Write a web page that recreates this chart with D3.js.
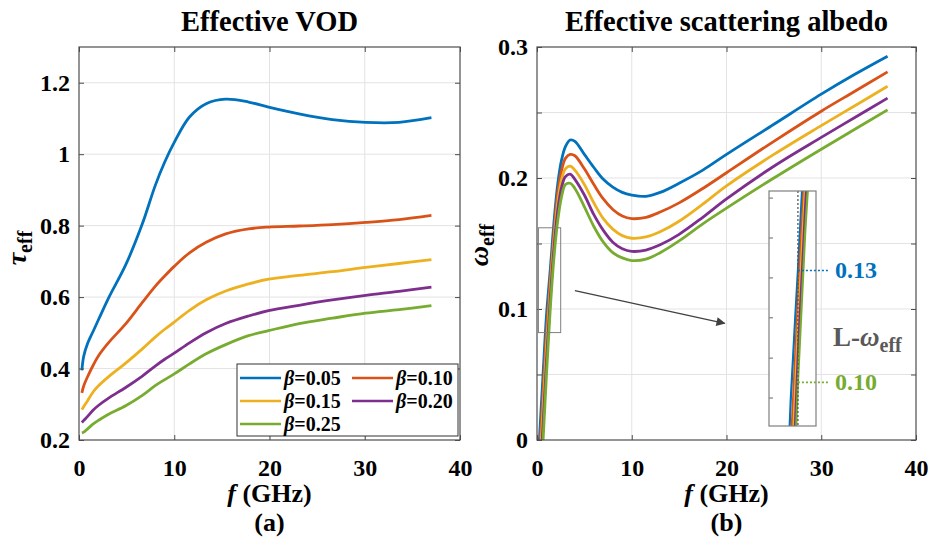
<!DOCTYPE html>
<html><head><meta charset="utf-8">
<script src="https://cdn.jsdelivr.net/npm/d3@7"></script>
<style>
body{margin:0;background:#fff;}
svg text{font-family:"Liberation Serif","Times New Roman",serif;font-weight:bold;fill:#000;}
</style></head><body>
<svg id="chart" width="930" height="547"></svg>
<script>
// ---------- data ----------
const betaLabels = ["0.05","0.10","0.15","0.20","0.25"];
const colors = ["#0072BD","#D95319","#EDB120","#7E2F8E","#77AC30"];

// Panel (a): effective VOD
const fVod = [0.3, 0.5, 0.9, 1.5, 2.1, 3.15, 4.9, 6.65, 8.0, 9.0, 10, 11.6, 13.4, 15.4, 17.8, 19.9, 23.1, 26.6, 30.1, 33.6, 37];
const vod005 = [0.395, 0.435, 0.47, 0.505, 0.54, 0.6, 0.69, 0.805, 0.912, 0.978, 1.033, 1.104, 1.142, 1.154, 1.146, 1.132, 1.113, 1.097, 1.089, 1.089, 1.102];
const vod010 = [0.332, 0.352, 0.377, 0.41, 0.438, 0.474, 0.525, 0.585, 0.63, 0.659, 0.686, 0.724, 0.754, 0.777, 0.791, 0.796, 0.799, 0.803, 0.809, 0.817, 0.829];
const vod015 = [0.285, 0.294, 0.31, 0.335, 0.353, 0.378, 0.415, 0.455, 0.488, 0.51, 0.53, 0.563, 0.593, 0.617, 0.637, 0.65, 0.661, 0.671, 0.683, 0.694, 0.705];
const vod020 = [0.249, 0.255, 0.266, 0.284, 0.298, 0.318, 0.347, 0.379, 0.407, 0.426, 0.443, 0.472, 0.501, 0.526, 0.547, 0.562, 0.577, 0.592, 0.605, 0.616, 0.628];
const vod025 = [0.22, 0.222, 0.231, 0.245, 0.256, 0.273, 0.296, 0.325, 0.352, 0.369, 0.385, 0.413, 0.442, 0.467, 0.492, 0.506, 0.526, 0.541, 0.555, 0.565, 0.576];

// Panel (b): effective scattering albedo
const fAlb = [0.25, 0.6, 1.0, 1.4, 1.8, 2.2, 2.6, 3.0, 3.5, 4.0, 5.0, 6.0, 7.0, 8.0, 9.0, 10, 11.5, 13, 15, 17.5, 20, 25, 30, 33.5, 37];
const alb005 = [0.0, 0.045, 0.095, 0.13, 0.167, 0.196, 0.214, 0.224, 0.229, 0.228, 0.218, 0.208, 0.199, 0.193, 0.189, 0.187, 0.186, 0.189, 0.196, 0.206, 0.218, 0.241, 0.264, 0.279, 0.293];
const alb010 = [-0.013, 0.03, 0.082, 0.122, 0.159, 0.189, 0.206, 0.215, 0.218, 0.217, 0.207, 0.195, 0.184, 0.176, 0.171, 0.169, 0.170, 0.174, 0.181, 0.192, 0.204, 0.228, 0.251, 0.266, 0.281];
const alb015 = [-0.025, 0.018, 0.071, 0.115, 0.153, 0.182, 0.199, 0.207, 0.209, 0.206, 0.195, 0.181, 0.169, 0.161, 0.156, 0.154, 0.155, 0.159, 0.167, 0.180, 0.194, 0.218, 0.240, 0.255, 0.270];
const alb020 = [-0.035, 0.006, 0.06, 0.108, 0.147, 0.176, 0.193, 0.201, 0.203, 0.199, 0.187, 0.172, 0.160, 0.151, 0.146, 0.144, 0.145, 0.149, 0.157, 0.170, 0.184, 0.209, 0.231, 0.246, 0.261];
const alb025 = [-0.045, -0.006, 0.05, 0.10, 0.14, 0.168, 0.186, 0.195, 0.196, 0.192, 0.178, 0.163, 0.151, 0.143, 0.139, 0.137, 0.138, 0.143, 0.152, 0.165, 0.177, 0.200, 0.222, 0.237, 0.252];

const xTicks = [0, 10, 20, 30, 40];
const vodTicks = [0.2, 0.4, 0.6, 0.8, 1.0, 1.2];
const albTicks = [0, 0.05, 0.1, 0.15, 0.2, 0.25, 0.3];
const albLabelTicks = [0, 0.1, 0.2, 0.3];

// L-band annotation
const lBandFreq = 1.4;
const lBandHigh = 0.13, lBandLow = 0.10;
const zoomF = [0.15, 2.5], zoomW = [0.082, 0.162];
const insetF = [-0.2, 2.4], insetW = [0.0883, 0.1513];
const insetTicks = [0.0958, 0.1065, 0.1173, 0.128, 0.1387, 0.1494];
const arrowFrom = [4.0, 0.114], arrowTo = [19.8, 0.089];

// ---------- drawing ----------
const svg = d3.select("#chart");
const FONT = '"Liberation Serif","Times New Roman",serif';
const gridColor = "#e3e3e3", axisColor = "#4d4d4d";
const fmt = d => String(+d.toFixed(2));
const curve = d3.curveCatmullRom.alpha(0.5);

function panel(opt) {
  const {x0, x1, y0, y1, yDomain, yTicks, yLabelTicks, series, fx, id} = opt;
  const x = d3.scaleLinear().domain([0, 40]).range([x0, x1]);
  const y = d3.scaleLinear().domain(yDomain).range([y1, y0]);
  const g = svg.append("g");
  g.selectAll(".gx").data(xTicks.slice(1, -1)).join("line")
    .attr("x1", d => x(d)).attr("x2", d => x(d)).attr("y1", y0).attr("y2", y1)
    .attr("stroke", gridColor).attr("stroke-width", 1);
  g.selectAll(".gy").data(yTicks.filter(t => t > yDomain[0] + 1e-9 && t < yDomain[1] - 1e-9)).join("line")
    .attr("x1", x0).attr("x2", x1).attr("y1", d => y(d)).attr("y2", d => y(d))
    .attr("stroke", gridColor).attr("stroke-width", 1);
  svg.append("clipPath").attr("id", "clip" + id).append("rect")
    .attr("x", x0).attr("y", y0).attr("width", x1 - x0).attr("height", y1 - y0);
  const line = d3.line().x((d, i) => x(fx[i])).y(d => y(d)).curve(curve);
  g.append("g").attr("clip-path", `url(#clip${id})`)
    .selectAll("path").data(series).join("path")
    .attr("d", d => line(d)).attr("fill", "none")
    .attr("stroke", (d, i) => colors[i]).attr("stroke-width", 2.8).attr("stroke-linejoin", "round");
  const showLabel = d => yLabelTicks.some(t => Math.abs(t - d) < 1e-9) ? fmt(d) : "";
  g.append("g").attr("transform", `translate(0,${y1})`)
    .call(d3.axisBottom(x).tickValues(xTicks).tickSizeInner(-5).tickSizeOuter(0).tickPadding(19).tickFormat(d3.format("d")));
  g.append("g").attr("transform", `translate(${x0},0)`)
    .call(d3.axisLeft(y).tickValues(yTicks).tickSizeInner(-5).tickSizeOuter(0).tickPadding(9).tickFormat(showLabel));
  g.append("g").attr("transform", `translate(0,${y0})`).call(d3.axisTop(x).tickValues(xTicks).tickSizeInner(-5).tickSizeOuter(0).tickFormat(""));
  g.append("g").attr("transform", `translate(${x1},0)`).call(d3.axisRight(y).tickValues(yTicks).tickSizeInner(-5).tickSizeOuter(0).tickFormat(""));
  g.selectAll(".domain").remove();
  g.selectAll(".tick line").attr("stroke", axisColor);
  g.selectAll(".tick text").attr("font-family", FONT).attr("font-weight", "bold")
    .attr("font-size", 24).attr("fill", "#000");
  g.append("rect").attr("x", x0).attr("y", y0).attr("width", x1 - x0).attr("height", y1 - y0)
    .attr("fill", "none").attr("stroke", axisColor).attr("stroke-width", 1.2);
  return {x, y, g};
}

const A = panel({x0: 79, x1: 460, y0: 47, y1: 440, yDomain: [0.2, 1.3], yTicks: vodTicks, yLabelTicks: vodTicks,
  series: [vod005, vod010, vod015, vod020, vod025], fx: fVod, id: "a"});
const B = panel({x0: 537, x1: 916, y0: 47, y1: 440, yDomain: [0, 0.3], yTicks: albTicks, yLabelTicks: albLabelTicks,
  series: [alb005, alb010, alb015, alb020, alb025], fx: fAlb, id: "b"});

function txt(x, y, s, size, anchor) {
  return svg.append("text").attr("x", x).attr("y", y).attr("font-size", size)
    .attr("text-anchor", anchor || "middle").text(s);
}
txt(269.5, 31, "Effective VOD", 28.5);
txt(726.5, 31, "Effective scattering albedo", 28.5);

function xLabel(cx, letter) {
  const t = svg.append("text").attr("x", cx).attr("y", 502).attr("font-size", 26).attr("text-anchor", "middle");
  t.append("tspan").attr("font-style", "italic").text("f");
  t.append("tspan").text(" (GHz)");
  txt(cx, 531, "(" + letter + ")", 26);
}
xLabel(269.5, "a");
xLabel(726.5, "b");

function yLabel(cx, cy, sym) {
  const t = svg.append("text").attr("transform", `translate(${cx},${cy}) rotate(-90)`)
    .attr("font-size", 28).attr("text-anchor", "middle");
  t.append("tspan").attr("font-style", "italic").text(sym);
  t.append("tspan").attr("font-size", 20).attr("dy", 6).text("eff");
}
yLabel(26, 248, "τ");
yLabel(488, 245, "ω");

// legend (panel a)
const lg = svg.append("g");
lg.append("rect").attr("x", 237).attr("y", 364).attr("width", 221).attr("height", 72)
  .attr("fill", "#fff").attr("stroke", "#333").attr("stroke-width", 1);
const legPos = [[240, 378], [352, 378], [240, 401], [352, 401], [240, 424]];
betaLabels.forEach((b, i) => {
  const [lx, ly] = legPos[i];
  lg.append("line").attr("x1", lx).attr("x2", lx + 41).attr("y1", ly).attr("y2", ly)
    .attr("stroke", colors[i]).attr("stroke-width", 2.7);
  const t = lg.append("text").attr("x", lx + 44).attr("y", ly + 7).attr("font-size", 20);
  t.append("tspan").attr("font-style", "italic").text("β");
  t.append("tspan").text("=" + b);
});

// zoom rectangle + arrow (panel b)
const x = B.x, y = B.y;
svg.append("rect").attr("x", x(zoomF[0])).attr("y", y(zoomW[1]))
  .attr("width", x(zoomF[1]) - x(zoomF[0])).attr("height", y(zoomW[0]) - y(zoomW[1]))
  .attr("fill", "none").attr("stroke", "#7f7f7f").attr("stroke-width", 1);
svg.append("defs").append("marker").attr("id", "arr").attr("viewBox", "0 0 10 10")
  .attr("refX", 9).attr("refY", 5).attr("markerWidth", 11).attr("markerHeight", 9)
  .attr("markerUnits", "userSpaceOnUse").attr("orient", "auto")
  .append("path").attr("d", "M0,0 L10,5 L0,10 Z").attr("fill", "#404040");
svg.append("line").attr("x1", x(arrowFrom[0])).attr("y1", y(arrowFrom[1]))
  .attr("x2", x(arrowTo[0])).attr("y2", y(arrowTo[1]))
  .attr("stroke", "#404040").attr("stroke-width", 1.2).attr("marker-end", "url(#arr)");

// inset
const IX0 = 769, IX1 = 816, IY0 = 191, IY1 = 426;
const xi = d3.scaleLinear().domain(insetF).range([IX0, IX1]);
const yi = d3.scaleLinear().domain(insetW).range([IY1, IY0]);
const ig = svg.append("g");
ig.append("rect").attr("x", IX0).attr("y", IY0).attr("width", IX1 - IX0).attr("height", IY1 - IY0)
  .attr("fill", "#fff");
svg.append("clipPath").attr("id", "clipInset").append("rect")
  .attr("x", IX0).attr("y", IY0).attr("width", IX1 - IX0).attr("height", IY1 - IY0);
ig.selectAll(".it").data(insetTicks).join("line")
  .attr("x1", IX0).attr("x2", IX0 + 4).attr("y1", d => yi(d)).attr("y2", d => yi(d))
  .attr("stroke", "#666").attr("stroke-width", 1);
const iline = d3.line().x((d, i) => xi(fAlb[i])).y(d => yi(d)).curve(curve);
ig.append("g").attr("clip-path", "url(#clipInset)")
  .selectAll("path").data([alb005, alb010, alb015, alb020, alb025]).join("path")
  .attr("d", d => iline(d)).attr("fill", "none")
  .attr("stroke", (d, i) => colors[i]).attr("stroke-width", 2.2);
ig.append("line").attr("x1", xi(lBandFreq)).attr("x2", xi(lBandFreq)).attr("y1", IY0).attr("y2", IY1)
  .attr("stroke", "#555").attr("stroke-width", 1.3).attr("stroke-dasharray", "2,2");
ig.append("rect").attr("x", IX0).attr("y", IY0).attr("width", IX1 - IX0).attr("height", IY1 - IY0)
  .attr("fill", "none").attr("stroke", "#7f7f7f").attr("stroke-width", 1.2);

[[lBandHigh, colors[0]], [lBandLow, colors[4]]].forEach(([v, c]) => {
  ig.append("line").attr("x1", xi(lBandFreq)).attr("x2", 829).attr("y1", yi(v)).attr("y2", yi(v))
    .attr("stroke", c).attr("stroke-width", 1.6).attr("stroke-dasharray", "2,2");
  ig.append("text").attr("x", 835).attr("y", yi(v) + 8).attr("font-size", 24)
    .style("fill", c).text(v.toFixed(2));
});
const lt = ig.append("text").attr("x", 833).attr("y", 346).attr("font-size", 27).style("fill", "#595959");
lt.append("tspan").text("L-");
lt.append("tspan").attr("font-style", "italic").text("ω");
lt.append("tspan").attr("font-size", 20).attr("dy", 6).text("eff");
</script>
</body></html>
